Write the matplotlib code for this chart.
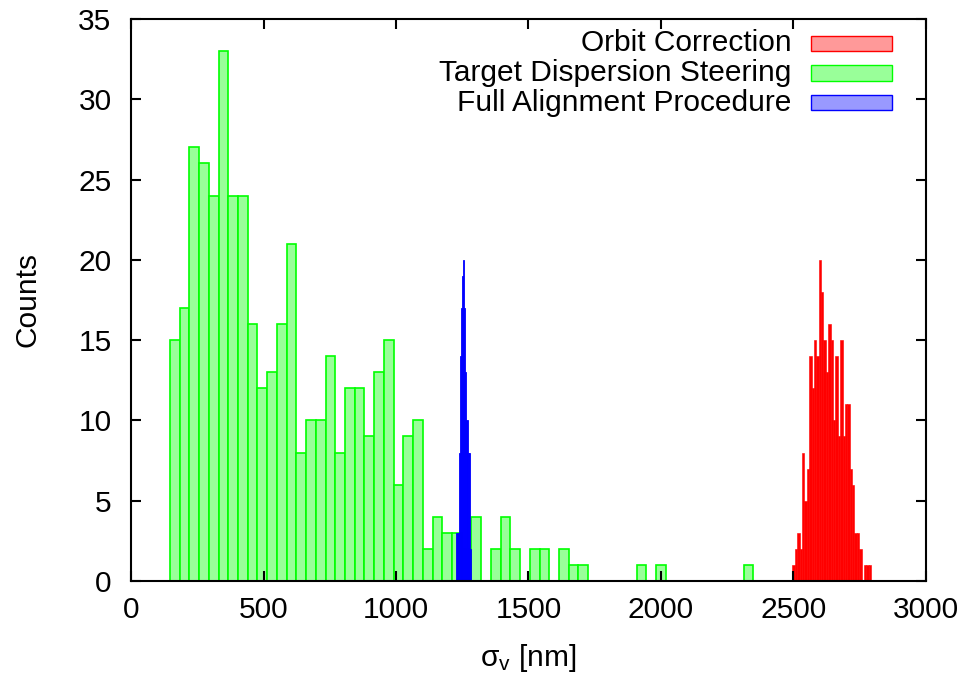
import matplotlib
matplotlib.use("Agg")
import matplotlib.pyplot as plt
from matplotlib.patches import Rectangle

plt.rcParams['font.family'] = ['Liberation Sans', 'DejaVu Sans']
plt.rcParams['mathtext.fontset'] = 'custom'
plt.rcParams['mathtext.rm'] = 'Liberation Sans'
plt.rcParams['mathtext.it'] = 'Liberation Sans:italic'
plt.rcParams['mathtext.default'] = 'regular'

# Target Dispersion Steering (green), fixed-width bins
tds_start = 147.0
tds_width = 36.7
tds_counts = [15, 17, 27, 26, 24, 33, 24, 24, 16, 12,
              13, 16, 21, 8, 10, 10, 14, 8, 12, 12,
              9, 13, 15, 6, 9, 10, 2, 4, 3, 3,
              2, 4, 0, 2, 4, 2, 0, 2, 2, 0,
              2, 1, 1, 0, 0, 0, 0, 0, 1, 0,
              1, 0, 0, 0, 0, 0, 0, 0, 0, 1]

# Orbit Correction (red)
oc_start = 2496.0
oc_width = 9.0
oc_counts = [1, 2, 3, 2, 8, 5, 7, 14, 12, 15, 14, 20, 18, 15, 13, 16, 15,
             10, 14, 9, 15, 9, 11, 11, 7, 6, 3, 3, 2, 0, 1, 1, 1]

# Full Alignment Procedure (blue)
fap_start = 1227.0
fap_width = 3.9
fap_counts = [3, 3, 3, 8, 14, 17, 19, 20, 17, 13, 10, 8, 8, 2]

labels = ["Orbit Correction", "Target Dispersion Steering", "Full Alignment Procedure"]
edge_colors = ["#ff0000", "#00ff00", "#0000ff"]
fill_colors = ["#ff9999", "#99ff99", "#9999ff"]

FS = 21.5


def edges(start, width, n):
    return [start + i * width for i in range(n)]


def plot():
    fig = plt.figure(figsize=(9.69, 6.73), dpi=100)
    ax = fig.add_axes([0.1352, 0.1367, 0.8204, 0.8351])

    ax.bar(edges(oc_start, oc_width, len(oc_counts)), oc_counts, width=oc_width,
           align="edge", color="#ff0000", edgecolor="#ff0000", linewidth=0.4)
    ax.bar(edges(tds_start, tds_width, len(tds_counts)), tds_counts, width=tds_width,
           align="edge", color=fill_colors[1], edgecolor=edge_colors[1], linewidth=1.2)
    ax.bar(edges(fap_start, fap_width, len(fap_counts)), fap_counts, width=fap_width,
           align="edge", color="#0000ff", edgecolor="#0000ff", linewidth=0.6)

    ax.set_xlim(0, 3000)
    ax.set_ylim(0, 35)
    ax.set_xticks(range(0, 3001, 500))
    ax.set_yticks(range(0, 36, 5))
    ax.tick_params(direction="in", length=7, width=1.5, top=True, right=True,
                   labelsize=FS)
    ax.tick_params(axis="y", pad=14)
    ax.tick_params(axis="x", pad=11)
    for s in ax.spines.values():
        s.set_linewidth(1.5)

    ax.set_xlabel(r"σ$_{v}$ [nm]", fontsize=FS)
    ax.set_ylabel("Counts", fontsize=FS)
    ax.xaxis.set_label_coords(0.5, -0.108)
    ax.yaxis.set_label_coords(-0.112, 0.5)

    # gnuplot-style key: right-aligned text, swatch on the right
    rows_y = [0.957, 0.904, 0.851]
    for lab, ec, fc, y in zip(labels, edge_colors, fill_colors, rows_y):
        ax.text(0.831, y, lab, transform=ax.transAxes, ha="right", va="center",
                fontsize=FS)
        ax.add_patch(Rectangle((0.855, y - 0.0135), 0.102, 0.027,
                               transform=ax.transAxes, facecolor=fc,
                               edgecolor=ec, linewidth=1.0, clip_on=False))

    fig.savefig("out.png", dpi=100)


if __name__ == "__main__":
    plot()
